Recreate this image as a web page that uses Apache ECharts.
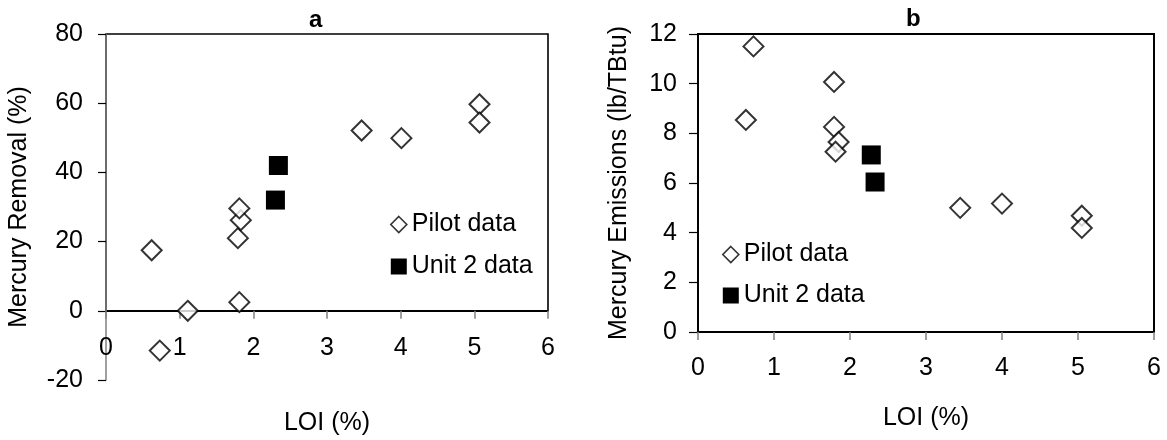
<!DOCTYPE html>
<html>
<head>
<meta charset="utf-8">
<script src="https://cdn.jsdelivr.net/npm/echarts@6/dist/echarts.min.js"></script>
<style>
  html, body { margin: 0; padding: 0; background: #fff; }
  #chart { width: 1167px; height: 440px; }
</style>
</head>
<body>
<div id="chart"></div>
<script>
// Panel a: mercury removal vs LOI
const pilotRemovalLOI = [0.62, 0.73, 1.11, 1.81, 1.79, 1.83, 1.81, 3.47, 4.01, 5.07, 5.07];
const pilotRemoval    = [17.5, -11.5, 0.0, 2.5, 21.0, 26.2, 29.6, 52.1, 49.9, 59.7, 54.4];
const unit2RemovalLOI = [2.30, 2.34];
const unit2Removal    = [32.0, 42.0];

// Panel b: mercury emissions vs LOI
const pilotEmissionLOI = [0.73, 0.63, 1.79, 1.79, 1.85, 1.81, 3.45, 4.00, 5.05, 5.05];
const pilotEmission    = [11.50, 8.54, 10.07, 8.26, 7.65, 7.26, 5.00, 5.17, 4.68, 4.19];
const unit2EmissionLOI = [2.28, 2.33];
const unit2Emission    = [7.13, 6.04];

const removalAxis  = { min: -20, max: 80, interval: 20 };
const emissionAxis = { min: 0, max: 12, interval: 2 };
const loiAxis      = { min: 0, max: 6, interval: 1 };

const FONT = "'Liberation Sans', Arial, sans-serif";
const FS = 25;
const pairs = (xs, ys) => xs.map((x, i) => [x, ys[i]]);

// Panel a plot box; the framed part runs from the top down to the zero line.
const gridA = { left: 106, top: 34, width: 442, height: 346 };
const zeroFromBottomA = gridA.height * (0 - removalAxis.min) / (removalAxis.max - removalAxis.min);
const frameA = {
  left: gridA.left, top: gridA.top, width: gridA.width,
  height: gridA.height - zeroFromBottomA
};
const gridB = { left: 698, top: 34, width: 456, height: 298 };
const fixedBox = { containLabel: false, outerBoundsMode: 'none' };

const hollowDiamond = { color: '#fff', borderColor: '#000', borderWidth: 2 };
const solidSquare = { color: '#000', opacity: 1 };

const legendData = [
  { name: 'Pilot data', icon: 'diamond', itemStyle: { color: '#fff', borderColor: '#000', borderWidth: 1.6 } },
  { name: 'Unit 2 data', icon: 'rect', itemStyle: { color: '#000', borderWidth: 0 } }
];
const legendText = { fontFamily: FONT, fontSize: FS, color: '#000', lineHeight: FS };
const labelStyle = { fontFamily: FONT, fontSize: FS, color: '#000' };

const chart = echarts.init(document.getElementById('chart'), null, { renderer: 'canvas' });

chart.setOption({
  animation: false,
  backgroundColor: '#fff',
  textStyle: { fontFamily: FONT },
  title: [
    { text: 'a', left: 309, top: 8, padding: 0, textStyle: { fontFamily: FONT, fontSize: 24, fontWeight: 'bold', color: '#000' } },
    { text: 'b', left: 906, top: 7, padding: 0, textStyle: { fontFamily: FONT, fontSize: 24, fontWeight: 'bold', color: '#000' } }
  ],
  legend: [
    { orient: 'vertical', left: 385, top: 207, itemWidth: 16, itemHeight: 16, itemGap: 17,
      textStyle: legendText, data: legendData, selectedMode: false },
    { orient: 'vertical', left: 717, top: 237, itemWidth: 16, itemHeight: 16, itemGap: 16,
      textStyle: legendText, data: legendData, selectedMode: false }
  ],
  grid: [
    Object.assign({}, gridA, fixedBox, { show: false }),
    Object.assign({}, frameA, fixedBox, { show: true, borderColor: '#000', borderWidth: 1.6, backgroundColor: 'transparent' }),
    Object.assign({}, gridB, fixedBox, { show: true, borderColor: '#000', borderWidth: 2, backgroundColor: 'transparent' })
  ],
  xAxis: [
    {
      // LOI axis of panel a sits on the zero line of the removal scale
      gridIndex: 0, type: 'value', min: loiAxis.min, max: loiAxis.max, interval: loiAxis.interval,
      offset: -zeroFromBottomA,
      name: 'LOI (%)', nameLocation: 'middle', nameGap: 100, nameTextStyle: labelStyle,
      axisLine: { show: true, onZero: false, lineStyle: { color: '#000', width: 1.2 } },
      axisTick: { show: true, inside: false, length: 8, lineStyle: { color: '#808080', width: 1.5 } },
      axisLabel: Object.assign({ margin: 25 }, labelStyle),
      splitLine: { show: false }
    },
    { gridIndex: 1, type: 'value', min: 0, max: 1, show: false },
    {
      gridIndex: 2, type: 'value', min: loiAxis.min, max: loiAxis.max, interval: loiAxis.interval,
      name: 'LOI (%)', nameLocation: 'middle', nameGap: 74, nameTextStyle: labelStyle,
      axisLine: { show: true, lineStyle: { color: '#000', width: 2 } },
      axisTick: { show: true, inside: false, length: 8, lineStyle: { color: '#808080', width: 1.5 } },
      axisLabel: Object.assign({ margin: 24 }, labelStyle),
      splitLine: { show: false }
    }
  ],
  yAxis: [
    {
      gridIndex: 0, type: 'value', min: removalAxis.min, max: removalAxis.max, interval: removalAxis.interval,
      name: 'Mercury Removal (%)', nameLocation: 'middle', nameGap: 74, nameTextStyle: labelStyle,
      axisLine: { show: true, onZero: false, lineStyle: { color: '#808080', width: 1.5 } },
      axisTick: { show: true, inside: false, length: 8, lineStyle: { color: '#000', width: 1.2 } },
      axisLabel: Object.assign({ margin: 23 }, labelStyle),
      splitLine: { show: false }
    },
    { gridIndex: 1, type: 'value', min: 0, max: 1, show: false },
    {
      gridIndex: 2, type: 'value', min: emissionAxis.min, max: emissionAxis.max, interval: emissionAxis.interval,
      name: 'Mercury Emissions (lb/TBtu)', nameLocation: 'middle', nameGap: 66, nameTextStyle: labelStyle,
      axisLine: { show: true, lineStyle: { color: '#000', width: 2 } },
      axisTick: { show: true, inside: false, length: 9, lineStyle: { color: '#000', width: 1.2 } },
      axisLabel: Object.assign({ margin: 21 }, labelStyle),
      splitLine: { show: false }
    }
  ],
  series: [
    { name: 'Pilot data', type: 'scatter', xAxisIndex: 0, yAxisIndex: 0, symbol: 'diamond', symbolSize: 20,
      itemStyle: hollowDiamond, data: pairs(pilotRemovalLOI, pilotRemoval), z: 3 },
    { name: 'Unit 2 data', type: 'scatter', xAxisIndex: 0, yAxisIndex: 0, symbol: 'rect', symbolSize: 19,
      itemStyle: solidSquare, data: pairs(unit2RemovalLOI, unit2Removal), z: 3 },
    { name: 'Pilot data', type: 'scatter', xAxisIndex: 2, yAxisIndex: 2, symbol: 'diamond', symbolSize: 20,
      itemStyle: hollowDiamond, data: pairs(pilotEmissionLOI, pilotEmission), z: 3 },
    { name: 'Unit 2 data', type: 'scatter', xAxisIndex: 2, yAxisIndex: 2, symbol: 'rect', symbolSize: 19,
      itemStyle: solidSquare, data: pairs(unit2EmissionLOI, unit2Emission), z: 3 }
  ]
});
</script>
</body>
</html>
